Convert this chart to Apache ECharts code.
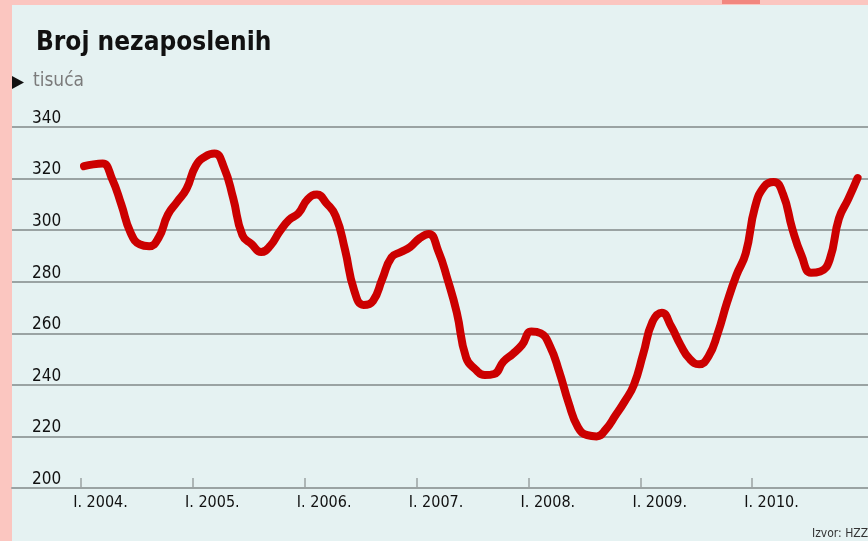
<!DOCTYPE html>
<html>
<head>
<meta charset="utf-8">
<script src="https://cdn.jsdelivr.net/npm/echarts@6/dist/echarts.min.js"></script>
<style>
  html, body { margin: 0; padding: 0; }
  #wrap { position: relative; width: 868px; height: 541px; background: #fbc6c0; overflow: hidden; }
  #panel { position: absolute; left: 12px; top: 5px; width: 856px; height: 536px; background: #e5f2f2; }
  #chart { position: absolute; left: 0; top: 0; width: 868px; height: 541px; }
</style>
</head>
<body>
<div id="wrap"><div id="panel"></div><div id="chart"></div></div>
<script>
// Monthly unemployment (thousands), Jan 2004 .. Dec 2010
const values2004 = [324.8, 325.5, 325.8, 320, 310, 299, 294.5, 293.8, 297, 306, 311, 316];
const values2005 = [325, 328.5, 329.7, 324.5, 312.5, 298, 294.5, 291.5, 294, 299.5, 304, 306.5];
const values2006 = [312, 313.8, 310.5, 305.5, 292.5, 276.5, 271, 272.5, 281, 289.5, 291.5, 293.5];
const values2007 = [296.8, 298.5, 292, 281, 268, 250.5, 246, 243.8, 244.2, 249, 252, 255.5];
const values2008 = [260.7, 260, 255, 245, 233, 223.6, 220.5, 220, 222.8, 228, 233.5, 240];
const values2009 = [252, 264.5, 268, 262.7, 255.5, 250, 248, 251, 260, 272, 282.5, 291];
const values2010 = [309, 317, 318.7, 314, 300.5, 290, 283.5, 284, 288.5, 304.5, 312, 320.2];
const yearLabels = ['I. 2004.', 'I. 2005.', 'I. 2006.', 'I. 2007.', 'I. 2008.', 'I. 2009.', 'I. 2010.'];
const yTicks = [200, 220, 240, 260, 280, 300, 320, 340];

const allValues = [].concat(values2004, values2005, values2006, values2007, values2008, values2009, values2010);
const seriesData = allValues.map((v, i) => [i, v]);
const tickOffset = -0.3;   // January tick position relative to first data point (months)
const labelOffset = -1.16;
const tickVals = yearLabels.map((_, i) => i * 12 + tickOffset);
const labelVals = yearLabels.map((_, i) => i * 12 + labelOffset);

const FONT = "'Liberation Sans Narrow', 'DejaVu Sans Condensed', Roboto, sans-serif";
const chart = echarts.init(document.getElementById('chart'));
chart.setOption({
  backgroundColor: 'transparent',
  animation: false,
  title: {
    text: 'Broj nezaposlenih',
    left: 31, top: 25,
    textStyle: { fontFamily: FONT, fontWeight: 'bold', fontSize: 26, color: '#111' }
  },
  graphic: [
    { type: 'rect', shape: { x: 722, y: 0, width: 38, height: 4 }, style: { fill: '#f2877f' } },
    { type: 'polygon', shape: { points: [[12, 76], [24, 82.5], [12, 89]] }, style: { fill: '#111' } },
    { type: 'text', left: 33, top: 72, style: { text: 'tisuća', fill: '#7b7b7b', font: "19px " + FONT } },
    { type: 'text', left: 812, top: 528, style: { text: 'Izvor: HZZ', fill: '#333', font: "12px " + FONT } }
  ],
  grid: { left: 12, right: 0, top: 127, bottom: 53, containLabel: false },
  xAxis: {
    type: 'value',
    min: (12 - 84) / 9.32,
    max: (868 - 84) / 9.32,
    axisLine: { show: true, lineStyle: { color: '#9aa3a3', width: 2 } },
    axisTick: { show: true, inside: true, length: 10, customValues: tickVals, lineStyle: { color: '#9aa3a3', width: 1.5 } },
    axisLabel: {
      customValues: labelVals,
      align: 'left', margin: 7,
      fontFamily: FONT, fontSize: 16, color: '#111',
      formatter: v => yearLabels[Math.round((v - labelOffset) / 12)] || ''
    },
    splitLine: { show: false }
  },
  yAxis: {
    type: 'value',
    min: yTicks[0], max: yTicks[yTicks.length - 1], interval: 20,
    axisLine: { show: false },
    axisTick: { show: false },
    axisLabel: {
      inside: true, margin: 20, verticalAlign: 'bottom', padding: [0, 0, 0, 0],
      fontFamily: FONT, fontSize: 17, color: '#111'
    },
    splitLine: { show: true, lineStyle: { color: '#9aa3a3', width: 2 } }
  },
  series: [{
    type: 'line',
    data: seriesData,
    smooth: 0.5,
    symbol: 'none',
    lineStyle: { color: '#cc0000', width: 8, cap: 'round', join: 'round' },
    z: 5
  }]
});
</script>
</body>
</html>
